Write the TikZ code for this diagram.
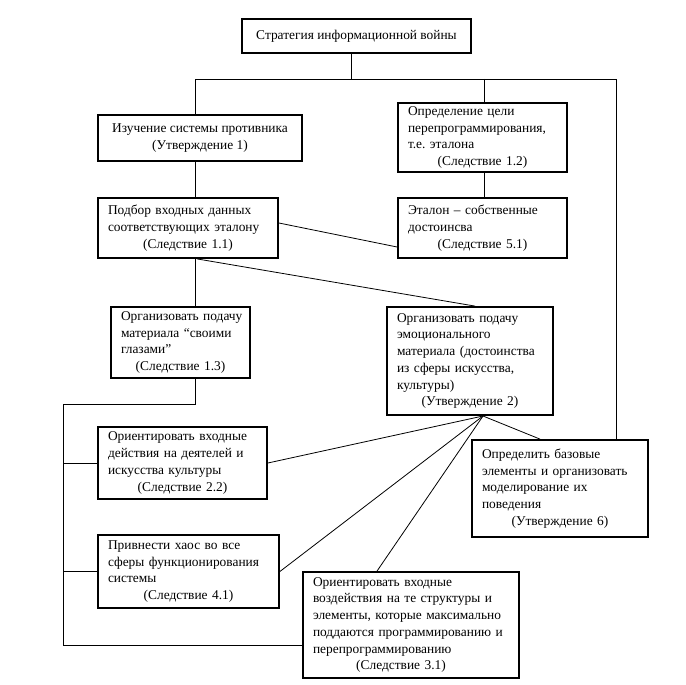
\documentclass[tikz,border=0pt]{standalone}
\usepackage{fontspec}
\setmainfont{Liberation Serif}
\usetikzlibrary{calc}
\tikzset{
  box/.style={draw, line width=1.8pt, inner xsep=10pt, inner ysep=0pt, align=left,
    font=\fontsize{13.4}{16.7}\selectfont\frenchspacing},
  conn/.style={line width=0.8pt}
}
\newcommand\lastline[1]{\makebox[\linewidth][c]{#1}}
\begin{document}
\begin{tikzpicture}[x=1pt,y=-1pt]
\fill[white] (0,0) rectangle (686,685);
\useasboundingbox (0,0) rectangle (686,685);
% boxes
\node[box, align=center, minimum width=229pt, minimum height=34pt] (top) at (356.5,36) {Стратегия информационной войны};
\node[box, align=center, minimum width=204pt, minimum height=46pt] (b1) at (200,138) {Изучение системы противника\\(Утверждение 1)};
\node[box, text width=149pt, minimum height=69pt] (b12) at (482.5,137.5) {\mbox{Определение цели}\\\mbox{перепрограммирования,}\\\mbox{т.е. эталона}\\\lastline{(Следствие 1.2)}};
\node[box, text width=149pt, minimum height=60pt] (b51) at (482.5,228) {\mbox{Эталон – собственные}\\\mbox{достоинсва}\\\lastline{(Следствие 5.1)}};
\node[box, text width=160pt, minimum height=60pt] (b11) at (188,228) {\mbox{Подбор входных данных}\\\mbox{соответствующих эталону}\\\lastline{(Следствие 1.1)}};
\node[box, text width=119pt, minimum height=71pt] (b13) at (180.5,342.5) {\mbox{Организовать подачу}\\\mbox{материала “своими}\\\mbox{глазами”}\\\lastline{(Следствие 1.3)}};
\node[box, text width=146pt, minimum height=108pt] (u2) at (470,361) {\mbox{Организовать подачу}\\\mbox{эмоционального}\\\mbox{материала (достоинства}\\\mbox{из сферы искусства,}\\\mbox{культуры)}\\\lastline{(Утверждение 2)}};
\node[box, text width=149pt, minimum height=72pt] (b22) at (182.5,463) {\mbox{Ориентировать входные}\\\mbox{действия на деятелей и}\\\mbox{искусства культуры}\\\lastline{(Следствие 2.2)}};
\node[box, text width=156pt, minimum height=97pt] (u6) at (560,488.5) {\mbox{Определить базовые}\\\mbox{элементы и организовать}\\\mbox{моделирование их}\\\mbox{поведения}\\\lastline{(Утверждение 6)}};
\node[box, text width=161pt, minimum height=73pt] (b41) at (188.5,571.5) {\mbox{Привнести хаос во все}\\\mbox{сферы функционирования}\\\mbox{системы}\\\lastline{(Следствие 4.1)}};
\node[box, text width=196pt, minimum height=106pt] (b31) at (411,625) {\mbox{Ориентировать входные}\\\mbox{воздействия на те структуры и}\\\mbox{элементы, которые максимально}\\\mbox{поддаются программированию и}\\\mbox{перепрограммированию}\\\hspace*{-10pt}\lastline{(Следствие 3.1)}};
% junction coordinates
\coordinate (j0) at (351,79);
\coordinate (jl) at (195,79);
\coordinate (jm) at (484,79);
\coordinate (jr) at (616,79);
\coordinate (k1) at (195,404);
\coordinate (k2) at (63,404);
\coordinate (k3) at (63,645);
\coordinate (f) at (483,416);
% connectors
\draw[conn] (top.south -| j0) -- (j0);
\draw[conn] (b1.north -| jl) -- (jl) -- (jr) -- (u6.north -| jr);
\draw[conn] (jm) -- (b12.north -| jm);
\draw[conn] (b1.south -| jl) -- (b11.north -| jl);
\draw[conn] (b12.south -| jm) -- (b51.north -| jm);
\draw[conn] ([yshift=5pt]b11.east) -- ([yshift=-19pt]b51.west);
\draw[conn] (b11.south -| jl) -- (b13.north -| jl);
\draw[conn] ([xshift=9pt]b11.south) -- ([xshift=5pt]u2.north);
\draw[conn] (b13.south -| k1) -- (k1) -- (k2) -- (k3) -- (b31.west |- k3);
\draw[conn] (b22.west -| k2) -- (b22.west);
\draw[conn] (b41.west -| k2) -- (b41.west);
\draw[conn] (f) -- (b22.east);
\draw[conn] (f) -- (b41.east);
\draw[conn] (f) -- ([xshift=-34pt]b31.north);
\draw[conn] (f) -- ([xshift=-20pt]u6.north);
\end{tikzpicture}
\end{document}
